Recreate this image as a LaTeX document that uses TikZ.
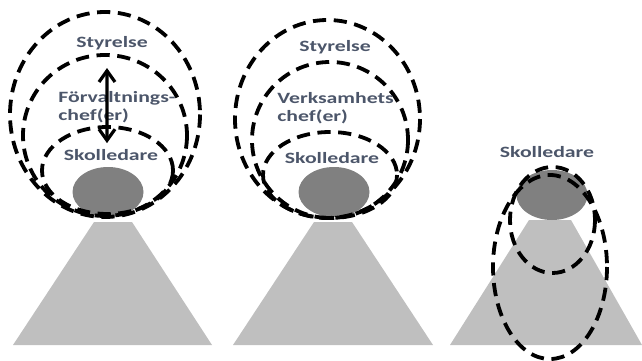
\documentclass[tikz,border=0pt]{standalone}
\usepackage{fontspec}
\setmainfont{Carlito}
\usetikzlibrary{shapes.geometric,arrows.meta}
\definecolor{txtgray}{RGB}{76,86,106}
\definecolor{headgray}{RGB}{128,128,128}
\definecolor{conegray}{RGB}{191,191,191}

\begin{document}
\begin{tikzpicture}[x=0.25mm,y=-0.25mm,
		cone/.style={fill=conegray},
		head/.style={ellipse,fill=headgray,minimum width=17.75mm,minimum height=12.5mm,inner sep=0pt},
		ring/.style={line width=0.95mm,dash pattern=on 3.3mm off 1.9mm},
		lbl/.style={text=txtgray,font=\bfseries\fontsize{11.2}{13}\selectfont,inner sep=0pt,xscale=1.38,align=left},
		updown/.style={line width=0.8mm,{Straight Barb[length=2.8mm,width=4mm]}-{Straight Barb[length=2.8mm,width=4mm]}}]
		\useasboundingbox (0,0) rectangle (642,361);

		% cones
		\fill[cone] (13,345) -- (94,222) -- (132,222) -- (212,345) -- cycle;
		\fill[cone] (233,345) -- (314,222) -- (352,222) -- (433,345) -- cycle;
		\fill[cone] (450,345) -- (529,220) -- (571,220) -- (642,345) -- cycle;

		% heads
		\node[head] (head1) at (108,192) {};
		\node[head] (head2) at (334,192) {};
		\node[head] (head3) at (552,195) {};

		% rings, left
		\draw[ring] (105,114.5) ellipse [x radius=95,y radius=102.5];
		\draw[ring] (105,135.5) ellipse [x radius=82,y radius=80.5];
		\draw[ring] (107.5,170.5) ellipse [x radius=65.5,y radius=43.5];

		% rings, middle
		\draw[ring] (327.5,119) ellipse [x radius=92.5,y radius=99];
		\draw[ring] (330,140) ellipse [x radius=78,y radius=78];
		\draw[ring] (330,175) ellipse [x radius=67,y radius=43];

		% rings, right
		\draw[ring] (552.5,220) ellipse [x radius=42.5,y radius=53];
		\draw[ring] (550,267) ellipse [x radius=57,y radius=92];

		% labels
		\node[lbl] (sty1) at (112,43) {Styrelse};
		\node[lbl,anchor=west] (chef1) at (58,107) {Förvaltnings-\\chef(er)};
		\node[lbl] (sko1) at (111,155) {Skolledare};
		\node[lbl] (sty2) at (335,47) {Styrelse};
		\node[lbl,anchor=west] (chef2) at (277,108) {Verksamhets\\chef(er)};
		\node[lbl] (sko2) at (332,158) {Skolledare};
		\node[lbl] (sko3) at (547,152) {Skolledare};

		% styrelse <-> skolledare
		\draw[updown,shorten <=4.5mm,shorten >=1.5mm] ([xshift=-1.25mm]sty1.south) -- ([xshift=-1mm]sko1.north);
\end{tikzpicture}
\end{document}
